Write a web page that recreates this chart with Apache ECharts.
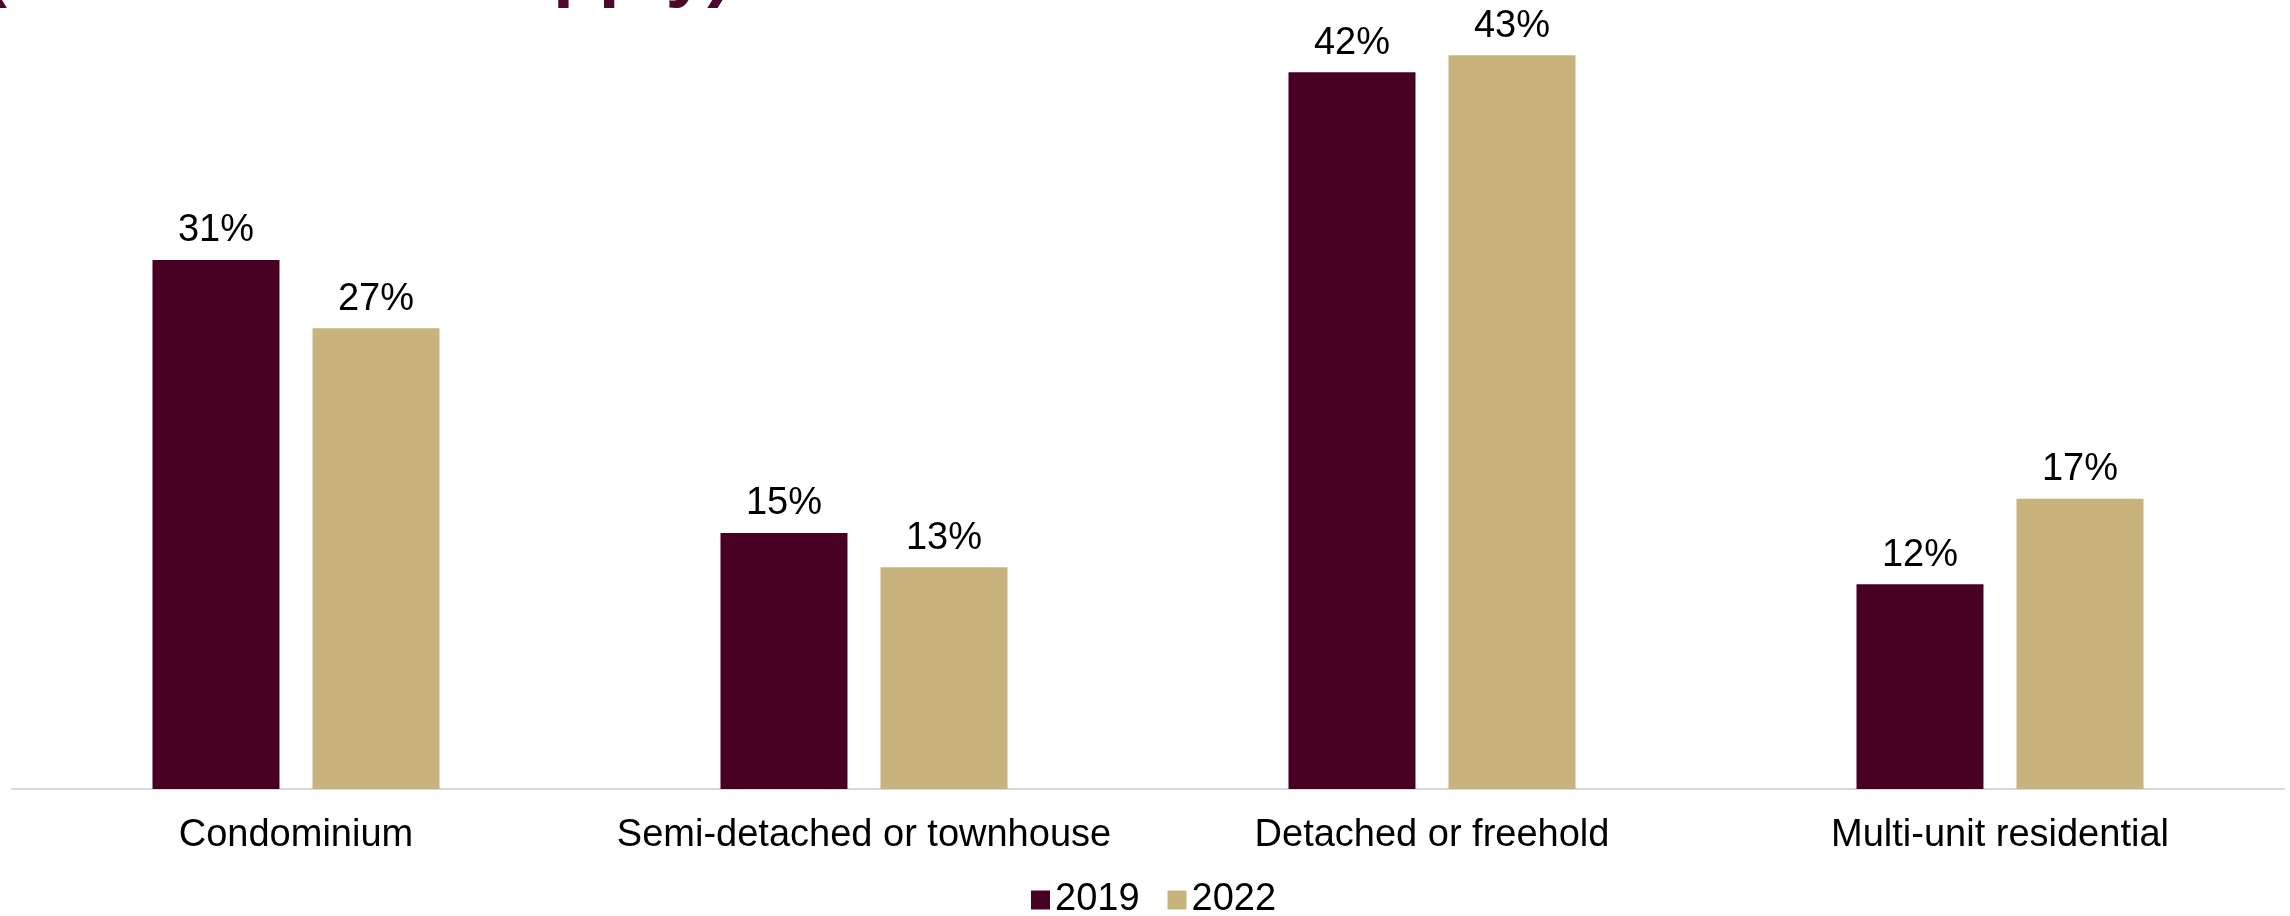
<!DOCTYPE html>
<html>
<head>
<meta charset="utf-8">
<title>Property type, 2019 vs 2022</title>
<script src="https://cdn.jsdelivr.net/npm/echarts@6/dist/echarts.min.js"></script>
<style>
  html, body { margin: 0; padding: 0; background: #ffffff; }
  #chart { width: 2290px; height: 916px; }
</style>
</head>
<body>
<div id="chart"></div>
<script>
// Property types and the share of respondents (%) in each survey year
const categories = ['Condominium', 'Semi-detached or townhouse', 'Detached or freehold', 'Multi-unit residential'];
const seriesNames = ['2019', '2022'];
const values2019 = [31, 15, 42, 12];
const values2022 = [27, 13, 43, 17];
const titleText = '(Select all that apply)';

const MAROON = '#470024';
const GOLD = '#C8B37C';
const FONT = '"Liberation Sans", Arial, sans-serif';

const chart = echarts.init(document.getElementById('chart'), null, { renderer: 'canvas' });

const labelStyle = {
  show: true,
  position: 'top',
  distance: 10,
  color: '#000000',
  fontSize: 38,
  fontFamily: FONT,
  formatter: p => p.value + '%'
};

chart.setOption({
  animation: false,
  backgroundColor: '#ffffff',
  textStyle: { fontFamily: FONT },
  graphic: [{
    type: 'text',
    x: -18,
    y: -28,
    style: {
      text: titleText,
      fill: '#4B0A2C',
      font: 'bold 75px "Liberation Sans", Arial, sans-serif',
      verticalAlign: 'middle',
      align: 'left'
    }
  }],
  legend: {
    data: seriesNames,
    left: 1031,
    top: 881,
    padding: 0,
    itemWidth: 19,
    itemHeight: 19,
    itemGap: 28,
    icon: 'rect',
    textStyle: { fontSize: 38, color: '#000000', fontFamily: FONT }
  },
  grid: { left: 12, right: 6, top: 21, bottom: 127, containLabel: false },
  xAxis: {
    type: 'category',
    data: categories,
    axisLine: { show: true, lineStyle: { color: '#D9D9D9', width: 2 } },
    axisTick: { show: false },
    axisLabel: { fontSize: 38, color: '#000000', fontFamily: FONT, margin: 28, interval: 0 }
  },
  yAxis: {
    type: 'value',
    min: 0,
    max: 45,
    show: false,
    splitLine: { show: false }
  },
  series: [
    {
      name: seriesNames[0],
      type: 'bar',
      data: values2019,
      barWidth: 127,
      barGap: '26%',
      itemStyle: { color: MAROON },
      label: labelStyle
    },
    {
      name: seriesNames[1],
      type: 'bar',
      data: values2022,
      barWidth: 127,
      barGap: '26%',
      itemStyle: { color: GOLD },
      label: labelStyle
    }
  ]
});
</script>
</body>
</html>
